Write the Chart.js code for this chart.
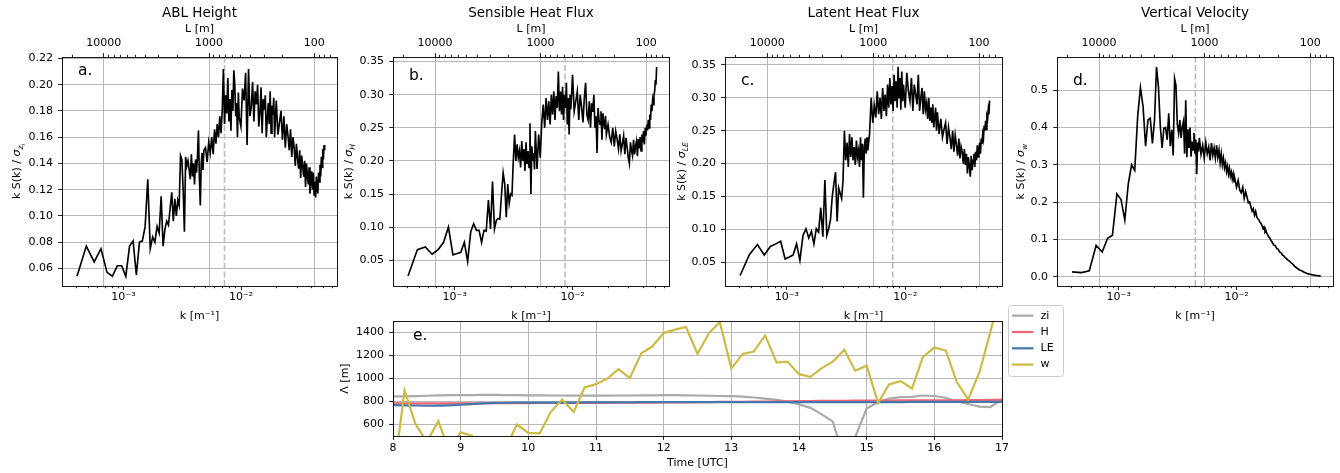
<!DOCTYPE html>
<html>
<head>
<meta charset="utf-8">
<title>Spectra and length scales</title>
<script src="https://cdn.jsdelivr.net/npm/chart.js@4.4.1/dist/chart.umd.min.js"></script>
<style>
  html, body { margin: 0; padding: 0; background: #ffffff; }
  body { position: relative; width: 1340px; height: 473px; overflow: hidden; }
  canvas { position: absolute; }
</style>
</head>
<body>
<canvas id="panelA"></canvas>
<canvas id="panelB"></canvas>
<canvas id="panelC"></canvas>
<canvas id="panelD"></canvas>
<canvas id="panelE"></canvas>
<script>
// ================= DATA =================
// wavenumber index n (k = n * waveStep)
const waveIndex = [
  5,6,7,8,9,10,11,12,13,14,15,16,17,18,19,20,21,22,23,24,25,26,27,28,29,30,31,32,33,34,35,36,37,38,39,40,41,42,43,44,45,46,47,48,49,50,51,52,53,54,55,56,57,58,59,60,
  62,64,66,68,70,72,74,76,78,80,82,84,86,88,90,92,94,96,98,100,102,104,106,108,110,112,114,116,118,120,
  124,128,132,136,140,144,148,152,156,160,164,168,172,176,180,184,188,192,196,200,204,208,212,216,220,224,228,232,236,240,
  248,256,264,272,280,288,296,304,312,320,328,336,344,352,360,368,376,384,392,400,408,416,424,432,440,448,456,464,472,480,
  488,496,504,512,520,528,536,544,552,560,568,576,584,592,600,608,616,624,632,640
];
const waveStep = 8.05e-5; // [1/m]

// k S(k) / sigma for each variable
const ablSpectrum = [
  0.054,0.077,0.065,0.075,0.057,0.054,0.062,0.062,0.054,0.077,
  0.081,0.055,0.080,0.081,0.092,0.128,0.075,0.084,0.080,0.092,
  0.087,0.115,0.077,0.090,0.096,0.093,0.106,0.118,0.096,0.113,
  0.100,0.112,0.108,0.146,0.143,0.120,0.088,0.145,0.138,0.142,
  0.135,0.128,0.147,0.130,0.140,0.124,0.143,0.133,0.146,0.165,
  0.128,0.108,0.140,0.148,0.135,0.150,
  0.152,0.141,0.156,0.148,0.160,0.147,0.166,0.155,0.170,0.160,
  0.176,0.163,0.180,0.212,0.170,0.192,0.178,0.205,0.172,0.189,
  0.165,0.196,0.180,0.211,0.200,0.176,0.186,0.160,0.194,0.175,
  0.168,0.197,0.188,0.209,0.154,0.212,0.176,0.183,0.202,0.172,
  0.195,0.185,0.200,0.168,0.178,0.198,0.163,0.189,0.181,0.192,
  0.160,0.174,0.186,0.170,0.195,0.163,0.184,0.177,0.190,0.160,
  0.188,0.162,0.171,0.180,0.158,0.176,0.152,0.170,0.161,0.150,
  0.166,0.145,0.160,0.152,0.138,0.155,0.144,0.136,0.150,0.129,
  0.146,0.138,0.130,0.142,0.122,0.140,0.131,0.124,0.137,0.117,
  0.127,0.134,0.120,0.133,0.116,0.126,0.114,0.130,0.121,0.117,
  0.133,0.126,0.139,0.130,0.145,0.137,0.151,0.143,0.154,0.150
];
const sensibleSpectrum = [
  0.026,0.066,0.070,0.059,0.066,0.077,0.100,0.058,0.060,0.062,
  0.077,0.048,0.093,0.105,0.095,0.095,0.077,0.095,0.094,0.141,
  0.097,0.169,0.097,0.110,0.113,0.112,0.150,0.182,0.165,0.115,
  0.165,0.136,0.150,0.148,0.200,0.240,0.200,0.225,0.205,0.215,
  0.190,0.230,0.200,0.218,0.185,0.228,0.195,0.215,0.190,0.257,
  0.150,0.222,0.200,0.212,0.187,0.245,
  0.188,0.240,0.205,0.258,0.285,0.250,0.295,0.262,0.290,0.255,
  0.300,0.270,0.305,0.262,0.298,0.280,0.335,0.275,0.305,0.270,
  0.312,0.262,0.300,0.280,0.318,0.255,0.295,0.240,0.300,0.278,
  0.330,0.275,0.290,0.305,0.262,0.300,0.281,0.258,0.295,0.318,
  0.270,0.262,0.290,0.250,0.287,0.274,0.300,0.250,0.268,0.212,
  0.280,0.262,0.255,0.275,0.232,0.272,0.258,0.248,0.268,0.240,
  0.255,0.236,0.228,0.250,0.222,0.245,0.233,0.218,0.240,0.215,
  0.226,0.238,0.210,0.235,0.220,0.205,0.196,0.228,0.216,0.208,
  0.232,0.210,0.222,0.230,0.207,0.233,0.219,0.236,0.215,0.240,
  0.228,0.245,0.225,0.250,0.238,0.255,0.246,0.262,0.250,0.270,
  0.262,0.285,0.275,0.292,0.285,0.300,0.305,0.322,0.315,0.342
];
const latentSpectrum = [
  0.030,0.062,0.077,0.061,0.074,0.078,0.082,0.055,0.058,0.061,
  0.078,0.053,0.091,0.101,0.087,0.097,0.078,0.101,0.096,0.133,
  0.089,0.175,0.091,0.101,0.115,0.150,0.170,0.187,0.112,0.163,
  0.155,0.147,0.174,0.250,0.205,0.232,0.195,0.245,0.210,0.240,
  0.205,0.225,0.198,0.235,0.210,0.220,0.195,0.240,0.205,0.230,
  0.148,0.225,0.238,0.215,0.240,0.220,
  0.245,0.300,0.262,0.288,0.270,0.310,0.275,0.300,0.268,0.315,
  0.280,0.305,0.272,0.320,0.285,0.330,0.290,0.318,0.280,0.335,
  0.295,0.325,0.285,0.347,0.300,0.330,0.282,0.340,0.295,0.320,
  0.285,0.338,0.310,0.295,0.330,0.280,0.320,0.305,0.290,0.335,
  0.280,0.300,0.315,0.275,0.310,0.282,0.292,0.268,0.300,0.265,
  0.285,0.262,0.290,0.255,0.270,0.285,0.250,0.278,0.262,0.245,
  0.268,0.240,0.252,0.262,0.230,0.255,0.240,0.222,0.250,0.218,
  0.243,0.228,0.212,0.238,0.208,0.226,0.218,0.200,0.222,0.198,
  0.215,0.185,0.210,0.196,0.180,0.212,0.190,0.205,0.215,0.195,
  0.218,0.205,0.228,0.210,0.222,0.232,0.215,0.238,0.230,0.245,
  0.238,0.258,0.250,0.265,0.252,0.272,0.268,0.282,0.275,0.296
];
const velocitySpectrum = [
  0.013,0.011,0.016,0.084,0.066,0.103,0.111,0.222,0.207,0.152,
  0.250,0.300,0.285,0.430,0.507,0.456,0.350,0.420,0.425,0.357,
  0.420,0.562,0.509,0.403,0.345,0.398,0.400,0.367,0.438,0.350,
  0.394,0.325,0.531,0.513,0.410,0.385,0.420,0.372,0.403,0.417,
  0.330,0.473,0.320,0.395,0.345,0.400,0.322,0.362,0.340,0.385,
  0.330,0.368,0.275,0.360,0.335,0.372,
  0.328,0.352,0.318,0.360,0.330,0.348,0.312,0.358,0.325,0.345,
  0.318,0.352,0.320,0.340,0.305,0.330,0.300,0.318,0.292,0.305,
  0.282,0.296,0.275,0.290,0.270,0.280,0.262,0.275,0.255,0.262,
  0.240,0.258,0.232,0.225,0.240,0.210,0.228,0.214,0.198,0.200,
  0.188,0.176,0.182,0.165,0.175,0.160,0.155,0.152,0.146,0.143,
  0.137,0.129,0.133,0.120,0.124,0.116,0.112,0.107,0.105,0.100,
  0.093,0.085,0.083,0.075,0.073,0.066,0.064,0.058,0.056,0.051,
  0.049,0.045,0.043,0.040,0.037,0.035,0.032,0.028,0.026,0.024,
  0.022,0.020,0.018,0.017,0.016,0.015,0.013,0.012,0.011,0.010,
  0.009,0.008,0.0075,0.007,0.0065,0.006,0.0055,0.005,0.0045,0.004,
  0.0038,0.0035,0.0033,0.003,0.0028,0.0026,0.0025,0.0023,0.0022,0.002
];
// wavenumber of the dashed marker in each panel [1/m]
const peakWavenumber = [7.24e-3, 8.62e-3, 7.83e-3, 4.47e-3];

const panelTitles = ['ABL Height', 'Sensible Heat Flux', 'Latent Heat Flux', 'Vertical Velocity'];
const panelLetters = ['a.', 'b.', 'c.', 'd.'];
const sigmaSubscripts = [['z', 'i'], ['H'], ['LE'], ['w']];

const kTickValues = [4e-4,5e-4,6e-4,7e-4,8e-4,9e-4,1e-3,2e-3,3e-3,4e-3,5e-3,6e-3,7e-3,8e-3,9e-3,1e-2,2e-2,3e-2,4e-2,5e-2,6e-2];
const lTickValues = [70,80,90,100,200,300,400,500,600,700,800,900,1000,2000,3000,4000,5000,6000,7000,8000,9000,10000,20000];
const ablTicks = [0.06,0.08,0.10,0.12,0.14,0.16,0.18,0.20,0.22];
const fluxTicks = [0.05,0.10,0.15,0.20,0.25,0.30,0.35];
const velocityTicks = [0.0,0.1,0.2,0.3,0.4,0.5];

// length scales vs time
const timeUTC = [
  8.00,8.17,8.33,8.50,8.67,8.83,9.00,9.17,9.33,9.50,9.67,9.83,
  10.00,10.17,10.33,10.50,10.67,10.83,11.00,11.17,11.33,11.50,11.67,11.83,
  12.00,12.17,12.33,12.50,12.67,12.83,13.00,13.17,13.33,13.50,13.67,13.83,
  14.00,14.17,14.33,14.50,14.67,14.83,15.00,15.17,15.33,15.50,15.67,15.83,
  16.00,16.17,16.33,16.50,16.67,16.83,17.00
];
const ziScale = [
  845,845,847,850,853,855,856,856,857,857,856,855,
  854,853,852,852,851,851,851,851,852,852,853,854,
  855,855,854,852,850,848,846,843,835,825,815,800,
  775,745,690,625,300,490,738,796,825,838,840,852,
  848,833,800,778,755,752,820
];
const hScale = [
  785,785,784,784,783,783,783,784,785,785,786,786,
  786,787,787,787,788,788,788,789,789,790,790,791,
  792,792,793,794,795,796,797,798,799,800,801,802,
  803,804,805,806,806,807,807,808,808,809,809,810,
  810,811,811,812,813,814,815
];
const leScale = [
  768,767,765,763,764,767,772,778,783,787,789,790,
  790,790,790,791,791,792,792,793,793,793,794,794,
  795,795,795,795,795,795,795,795,795,795,795,795,
  795,795,795,795,795,795,795,795,795,795,796,796,
  796,796,796,796,796,796,796
];
const wScale = [
  100,898,606,450,629,371,533,500,400,350,400,600,
  527,523,708,817,708,922,951,1000,1082,1005,1220,1278,
  1395,1425,1448,1214,1395,1490,1088,1214,1234,1375,1138,1147,
  1038,1015,1088,1147,1249,1068,1112,787,948,977,913,1185,
  1269,1243,971,819,1059,1410,1800
];
const seriesNames = ['zi', 'H', 'LE', 'w'];
const hourTicks = [8,9,10,11,12,13,14,15,16,17];
const lengthTicks = [600,800,1000,1200,1400];

// ================= STYLE / LAYOUT =================
const FONT = '"DejaVu Sans"';
Chart.defaults.font.family = FONT;
Chart.defaults.font.size = 11;
Chart.defaults.color = '#000';

const GRID = '#b0b0b0';
const kLimits = [3.16e-4, 0.0656];
const lLimits = [60.8, 25000];
const spectrumPanels = [
  { id: 'panelA', canvasLeft: 0,   width: 340, padRight: 3, series: ablSpectrum,      ticks: ablTicks,      yLim: [0.0466, 0.2211], dec: 2, titleDx: 46, letterDy: 18 },
  { id: 'panelB', canvasLeft: 331, width: 341, padRight: 3, series: sensibleSpectrum, ticks: fluxTicks,     yLim: [0.011, 0.357],   dec: 2, titleDx: 45, letterDy: 23 },
  { id: 'panelC', canvasLeft: 663, width: 342, padRight: 3, series: latentSpectrum,   ticks: fluxTicks,     yLim: [0.014, 0.362],   dec: 2, titleDx: 44, letterDy: 28 },
  { id: 'panelD', canvasLeft: 995, width: 341, padRight: 3, series: velocitySpectrum, ticks: velocityTicks, yLim: [-0.025, 0.589], dec: 1, titleDx: 37, letterDy: 28 }
];
const seriesColors = ['#AAAAAA', '#EE6677', '#4477AA', '#CCBB44'];

function isDecade(v) {
  const l = Math.log10(v);
  return Math.abs(l - Math.round(l)) < 1e-6;
}
const SUP = { '-': '\u207B', '0': '\u2070', '1': '\u00B9', '2': '\u00B2', '3': '\u00B3', '4': '\u2074', '5': '\u2075', '6': '\u2076', '7': '\u2077', '8': '\u2078', '9': '\u2079' };
function powerLabel(v) {
  const e = String(Math.round(Math.log10(v)));
  return '10' + e.split('').map(c => SUP[c]).join('');
}
function align(p) { return Math.round(p - 0.45) + 0.45; }

// frame + tick marks (major and minor)
const frameTicks = {
  id: 'frameTicks',
  afterDraw(chart) {
    const ctx = chart.ctx, a = chart.chartArea;
    ctx.save();
    ctx.strokeStyle = '#000';
    ctx.lineWidth = 0.9;
    Object.values(chart.scales).forEach(s => {
      const pos = s.options.position;
      s.ticks.forEach(t => {
        const major = s.type !== 'logarithmic' || isDecade(t.value);
        const len = major ? 3.9 : 2.2;
        const p = align(s.getPixelForValue(t.value));
        ctx.beginPath();
        if (pos === 'bottom' || pos === 'top') {
          if (p < a.left - 0.6 || p > a.right + 0.6) return;
          const y0 = pos === 'bottom' ? a.bottom : a.top;
          const d = pos === 'bottom' ? len : -len;
          ctx.moveTo(p, y0); ctx.lineTo(p, y0 + d);
        } else {
          if (p < a.top - 0.6 || p > a.bottom + 0.6) return;
          ctx.moveTo(a.left, p); ctx.lineTo(a.left - len, p);
        }
        ctx.stroke();
      });
    });
    const l = align(a.left), r = align(a.right), t = align(a.top), b = align(a.bottom);
    ctx.strokeRect(l, t, r - l, b - t);
    ctx.restore();
  }
};

function drawSigmaTitle(ctx, cx, cy, subs) {
  const parts = [
    { t: 'k S(k) / ', f: '11px ' + FONT, dy: 0 },
    { t: '\u03C3', f: 'italic 11px ' + FONT, dy: 0 }
  ];
  subs.forEach((s, i) => parts.push({ t: s, f: 'italic ' + (i === 0 ? 7.7 : 5.6) + 'px ' + FONT, dy: i === 0 ? 2.6 : 4.6 }));
  ctx.save();
  ctx.translate(cx, cy);
  ctx.rotate(-Math.PI / 2);
  let total = 0;
  parts.forEach(p => { ctx.font = p.f; p.w = ctx.measureText(p.t).width; total += p.w; });
  let x = -total / 2;
  ctx.textBaseline = 'alphabetic';
  ctx.textAlign = 'left';
  ctx.fillStyle = '#000';
  parts.forEach(p => { ctx.font = p.f; ctx.fillText(p.t, x, 4 + p.dy); x += p.w; });
  ctx.restore();
}

function spectrumChart(i) {
  const cfg = spectrumPanels[i];
  const canvas = document.getElementById(cfg.id);
  canvas.width = cfg.width; canvas.height = 330;
  canvas.style.left = cfg.canvasLeft + 'px'; canvas.style.top = '0px';
  canvas.style.width = cfg.width + 'px'; canvas.style.height = '330px';
  const n = Math.min(waveIndex.length, cfg.series.length);
  const points = [];
  for (let j = 0; j < n; j++) points.push({ x: waveIndex[j] * waveStep, y: cfg.series[j] });

  const decor = {
    id: 'decor' + i,
    afterDraw(chart) {
      const ctx = chart.ctx, a = chart.chartArea;
      ctx.save();
      ctx.fillStyle = '#000';
      ctx.font = '15.5px ' + FONT;
      ctx.textBaseline = 'alphabetic';
      ctx.textAlign = 'left';
      ctx.fillText(panelLetters[i], a.left + 16, a.top + cfg.letterDy);
      ctx.restore();
      drawSigmaTitle(ctx, a.left - cfg.titleDx, (a.top + a.bottom) / 2, sigmaSubscripts[i]);
    }
  };

  return new Chart(canvas, {
    type: 'line',
    data: {
      datasets: [
        { data: points, borderColor: '#000', borderWidth: 1.65, pointRadius: 0, pointHoverRadius: 0, order: 0, clip: 0 },
        { data: [{ x: peakWavenumber[i], y: cfg.yLim[0] }, { x: peakWavenumber[i], y: cfg.yLim[1] }],
          borderColor: '#bdbdbd', borderWidth: 1.6, borderDash: [6, 2.6], pointRadius: 0, pointHoverRadius: 0, order: 1, clip: 0 }
      ]
    },
    options: {
      responsive: false, animation: false, events: [],
      layout: { padding: { left: 0, right: cfg.padRight, top: 0, bottom: 0 } },
      plugins: {
        legend: { display: false }, tooltip: { enabled: false },
        title: { display: true, text: panelTitles[i], fullSize: false, color: '#000',
                 font: { size: 13.5, weight: 'normal', lineHeight: 1.2 }, padding: { top: 5.4, bottom: 0 } }
      },
      scales: {
        x: {
          type: 'logarithmic', position: 'bottom', min: kLimits[0], max: kLimits[1],
          afterFit: s => { s.height = 44; },
          afterBuildTicks: s => { s.ticks = kTickValues.map(v => ({ value: v })); },
          ticks: { autoSkip: false, maxRotation: 0, minRotation: 0, padding: 5, color: '#000',
                   callback: v => isDecade(v) ? powerLabel(v) : '' },
          grid: { display: false, drawTicks: false },
          border: { display: false },
          title: { display: true, text: 'k [m\u207B\u00B9]', color: '#000', font: { size: 11 }, padding: { top: 0, bottom: 7.4 } }
        },
        x2: {
          type: 'logarithmic', position: 'top', reverse: true, min: lLimits[0], max: lLimits[1],
          afterFit: s => { s.height = 35.4; },
          afterBuildTicks: s => { s.ticks = lTickValues.map(v => ({ value: v })); },
          ticks: { autoSkip: false, maxRotation: 0, minRotation: 0, padding: 7.4, color: '#000',
                   callback: v => isDecade(v) ? String(Math.round(v)) : '' },
          grid: { display: true, drawOnChartArea: true, drawTicks: false, lineWidth: 0.9,
                  color: c => (c.tick && isDecade(c.tick.value)) ? GRID : 'rgba(0,0,0,0)' },
          border: { display: false },
          title: { display: true, text: 'L [m]', color: '#000', font: { size: 11 }, padding: { top: 1, bottom: 0 } }
        },
        y: {
          type: 'linear', position: 'left', min: cfg.yLim[0], max: cfg.yLim[1],
          afterFit: s => { s.width = 62; },
          afterBuildTicks: s => { s.ticks = cfg.ticks.map(v => ({ value: v })); },
          ticks: { autoSkip: false, padding: 9, color: '#000', callback: v => Number(v).toFixed(cfg.dec) },
          grid: { color: GRID, lineWidth: 0.9, drawTicks: false },
          border: { display: false }
        }
      }
    },
    plugins: [frameTicks, decor]
  });
}

for (let i = 0; i < spectrumPanels.length; i++) spectrumChart(i);

// ---------- panel e ----------
(function () {
  const canvas = document.getElementById('panelE');
  canvas.width = 750; canvas.height = 173;
  canvas.style.left = '330px'; canvas.style.top = '300px';
  canvas.style.width = '750px'; canvas.style.height = '173px';
  const seriesValues = [ziScale, hScale, leScale, wScale];
  const datasets = seriesNames.map((name, i) => ({
    label: name,
    data: timeUTC.map((t, j) => ({ x: t, y: seriesValues[i][j] })),
    borderColor: seriesColors[i], borderWidth: 2.2, pointRadius: 0, pointHoverRadius: 0,
    order: seriesNames.length - i, clip: 0
  }));

  const legendAndLetter = {
    id: 'legendAndLetter',
    afterDraw(chart) {
      const ctx = chart.ctx, a = chart.chartArea;
      ctx.save();
      ctx.fillStyle = '#000';
      ctx.font = '15.5px ' + FONT;
      ctx.textBaseline = 'alphabetic';
      ctx.textAlign = 'left';
      ctx.fillText('e.', a.left + 20, a.top + 19);
      const x0 = a.right + 5.5, y0 = a.top - 16, w = 55, h = 71;
      ctx.beginPath();
      if (ctx.roundRect) ctx.roundRect(Math.round(x0) + 0.5, Math.round(y0) + 0.5, w, h, 3);
      else ctx.rect(Math.round(x0) + 0.5, Math.round(y0) + 0.5, w, h);
      ctx.fillStyle = 'rgba(255,255,255,0.8)';
      ctx.fill();
      ctx.strokeStyle = '#cccccc';
      ctx.lineWidth = 1;
      ctx.stroke();
      chart.data.datasets.forEach((ds, i) => {
        const y = y0 + 10.7 + i * 16.3;
        ctx.strokeStyle = ds.borderColor;
        ctx.lineWidth = ds.borderWidth;
        ctx.beginPath();
        ctx.moveTo(x0 + 4.5, y); ctx.lineTo(x0 + 26, y);
        ctx.stroke();
        ctx.fillStyle = '#000';
        ctx.font = '11px ' + FONT;
        ctx.textBaseline = 'middle';
        ctx.fillText(ds.label, x0 + 33, y);
      });
      ctx.restore();
    }
  };

  new Chart(canvas, {
    type: 'line',
    data: { datasets },
    options: {
      responsive: false, animation: false, events: [],
      layout: { padding: { left: 0, right: 78, top: 21, bottom: 0 } },
      plugins: { legend: { display: false }, tooltip: { enabled: false } },
      scales: {
        x: {
          type: 'linear', position: 'bottom', min: 8, max: 17,
          afterFit: s => { s.height = 37; },
          afterBuildTicks: s => { s.ticks = hourTicks.map(v => ({ value: v })); },
          ticks: { autoSkip: false, maxRotation: 0, padding: 5.7, color: '#000', callback: v => String(v) },
          grid: { color: GRID, lineWidth: 0.9, drawTicks: false },
          border: { display: false },
          title: { display: true, text: 'Time [UTC]', color: '#000', font: { size: 11 }, padding: { top: 0, bottom: 3.4 } }
        },
        y: {
          type: 'linear', position: 'left', min: 500, max: 1500,
          afterFit: s => { s.width = 63; },
          afterBuildTicks: s => { s.ticks = lengthTicks.map(v => ({ value: v })); },
          ticks: { autoSkip: false, padding: 9, color: '#000', callback: v => String(v) },
          grid: { color: GRID, lineWidth: 0.9, drawTicks: false },
          border: { display: false },
          title: { display: true, text: '\u039B [m]', color: '#000', font: { size: 11 }, padding: { top: 8.4, bottom: 0 } }
        }
      }
    },
    plugins: [frameTicks, legendAndLetter]
  });
})();
</script>
</body>
</html>
